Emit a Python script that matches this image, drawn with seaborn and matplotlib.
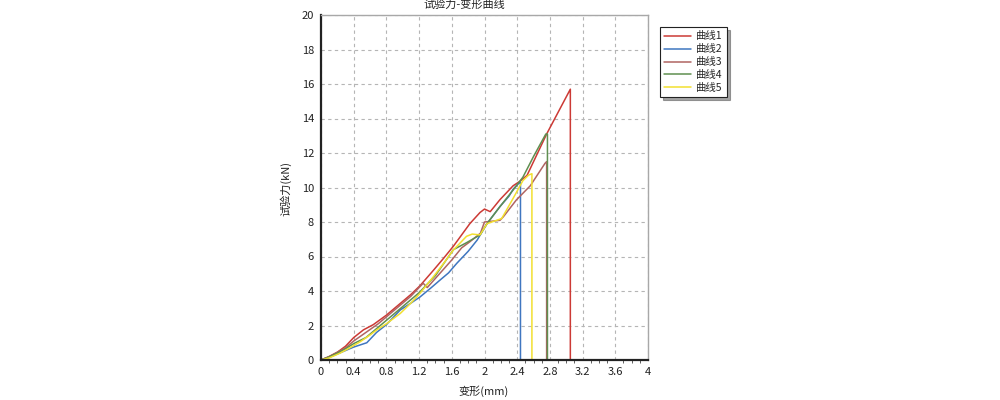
import numpy as np
import pandas as pd
import matplotlib
matplotlib.use("Agg")
import matplotlib.pyplot as plt
from matplotlib.ticker import MultipleLocator, FuncFormatter
import seaborn as sns

# curve data (deformation mm, force kN)
x1 = [0, 0.1, 0.2, 0.3, 0.4, 0.52, 0.64, 0.8, 1.0, 1.1, 1.21, 1.375, 1.5, 1.62, 1.82, 1.945, 2.0, 2.07, 2.19, 2.35, 2.43, 2.52, 2.76, 3.05, 3.05]
y1 = [0, 0.2, 0.45, 0.8, 1.3, 1.75, 2.05, 2.6, 3.4, 3.8, 4.3, 5.2, 5.9, 6.6, 7.9, 8.55, 8.75, 8.6, 9.3, 10.1, 10.35, 10.7, 13.1, 15.7, 0]

x2 = [0, 0.1, 0.2, 0.3, 0.4, 0.56, 0.68, 0.8, 0.97, 1.1, 1.21, 1.35, 1.46, 1.56, 1.66, 1.8, 1.91, 2.03, 2.19, 2.3, 2.35, 2.39, 2.43, 2.44, 2.44]
y2 = [0, 0.15, 0.35, 0.55, 0.75, 1.0, 1.6, 2.05, 2.9, 3.3, 3.65, 4.2, 4.65, 5.05, 5.6, 6.3, 6.95, 7.9, 8.9, 9.5, 9.9, 10.1, 10.3, 10.3, 0]

x3 = [0, 0.1, 0.2, 0.3, 0.4, 0.55, 0.7, 0.85, 1.0, 1.1, 1.2, 1.25, 1.3, 1.45, 1.6, 1.72, 1.82, 1.95, 2.0, 2.1, 2.19, 2.23, 2.39, 2.56, 2.74, 2.76, 2.76]
y3 = [0, 0.2, 0.45, 0.7, 1.1, 1.6, 2.1, 2.7, 3.3, 3.7, 4.2, 4.45, 4.2, 5.0, 5.8, 6.5, 6.85, 7.35, 8.0, 8.05, 8.1, 8.3, 9.28, 10.1, 11.4, 11.5, 0]

x4 = [0, 0.1, 0.2, 0.3, 0.4, 0.55, 0.7, 0.85, 1.0, 1.2, 1.4, 1.62, 1.78, 1.945, 2.03, 2.19, 2.35, 2.47, 2.6, 2.75, 2.77, 2.77]
y4 = [0, 0.18, 0.4, 0.65, 0.95, 1.3, 1.9, 2.5, 3.1, 3.9, 4.9, 6.4, 6.8, 7.25, 7.9, 8.9, 9.85, 10.6, 11.8, 13.1, 13.1, 0]

x5 = [0, 0.1, 0.23, 0.35, 0.48, 0.6, 0.68, 0.8, 0.97, 1.1, 1.21, 1.375, 1.5, 1.62, 1.78, 1.85, 1.945, 2.03, 2.21, 2.27, 2.35, 2.47, 2.54, 2.58, 2.58]
y5 = [0, 0.12, 0.39, 0.7, 1.06, 1.45, 1.74, 2.1, 2.7, 3.3, 3.86, 4.83, 5.6, 6.38, 7.17, 7.3, 7.25, 7.9, 8.2, 8.7, 9.37, 10.4, 10.72, 10.8, 0]

names = ["曲线1", "曲线2", "曲线3", "曲线4", "曲线5"]
colors = ["#cc3a35", "#3f76c0", "#b06462", "#5f8f50", "#f2e030"]

frames = []
for name, xs, ys in zip(names, [x1, x2, x3, x4, x5], [y1, y2, y3, y4, y5]):
    frames.append(pd.DataFrame({"x": xs, "y": ys, "curve": name}))
df = pd.concat(frames, ignore_index=True)

sns.set_style("white")
plt.rcParams["font.family"] = ["Noto Sans CJK SC", "DejaVu Sans"]

fig = plt.figure(figsize=(10, 4), dpi=100)
ax = fig.add_axes([0.321, 0.1, 0.327, 0.8625])

sns.lineplot(data=df, x="x", y="y", hue="curve", palette=colors,
             sort=False, estimator=None, units="curve", linewidth=1.1,
             legend=False, ax=ax)

ax.set_xlim(0, 4)
ax.set_ylim(0, 20)
ax.xaxis.set_major_locator(MultipleLocator(0.4))
ax.xaxis.set_minor_locator(MultipleLocator(0.1))
ax.yaxis.set_major_locator(MultipleLocator(2))
ax.xaxis.set_major_formatter(FuncFormatter(lambda v, p: f"{v:g}"))
ax.grid(True, which="major", color="#b5b5b5", linestyle=(0, (3, 3)), linewidth=0.8)
ax.set_xlabel("")
ax.set_ylabel("")

for s in ["left", "bottom"]:
    ax.spines[s].set_color("#222222")
    ax.spines[s].set_linewidth(1.6)
for s in ["top", "right"]:
    ax.spines[s].set_color("#a8a8a8")
    ax.spines[s].set_linewidth(1.0)

ax.tick_params(axis="both", which="major", labelsize=8, colors="#222222",
               length=3, width=0.8, direction="out", pad=2)
ax.tick_params(axis="x", which="minor", length=2, width=0.6, direction="out",
               bottom=True, colors="#444444")

fig.text(0.464, 0.988, "试验力-变形曲线", ha="center", va="center", fontsize=8, color="#222222")
fig.text(0.484, 0.022, "变形(mm)", ha="center", va="center", fontsize=8, color="#222222")
fig.text(0.286, 0.53, "试验力(kN)", ha="center", va="center", rotation=90, fontsize=8, color="#222222")

handles = [plt.Line2D([], [], color=c, linewidth=1.1) for c in colors]
leg = fig.legend(handles, names, loc="upper left", bbox_to_anchor=(0.66, 0.932),
                 frameon=True, fancybox=False, shadow=True, fontsize=7.5,
                 handlelength=2.6, handletextpad=0.5, labelspacing=0.28,
                 borderpad=0.4, borderaxespad=0)
leg.get_frame().set_edgecolor("#222222")
leg.get_frame().set_linewidth(0.8)

fig.savefig("out.png", dpi=100, facecolor="white")
